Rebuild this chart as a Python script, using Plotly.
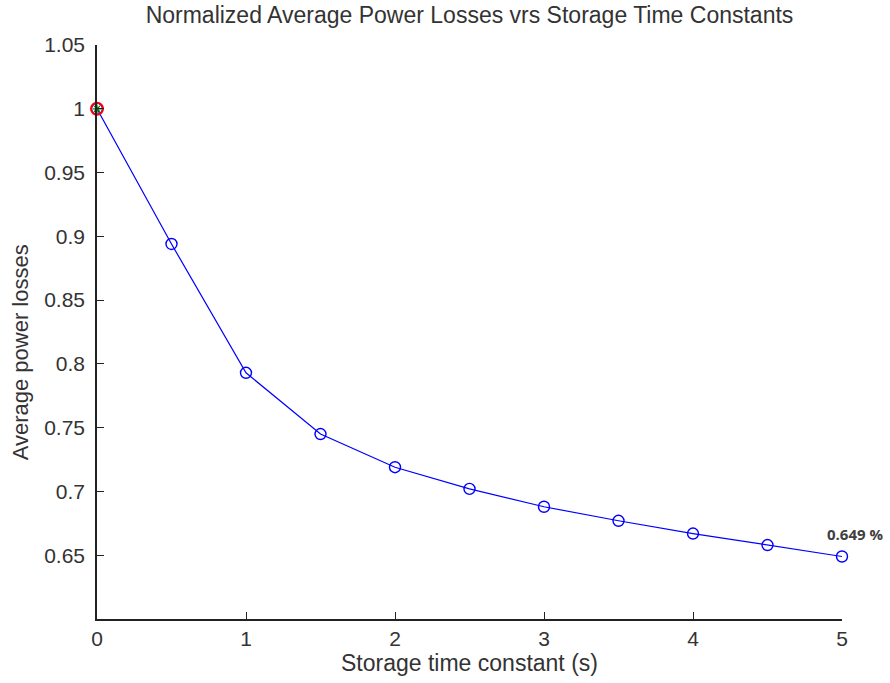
import plotly.graph_objects as go

# Storage time constant (s) and normalized average power losses
time_constant = [0, 0.5, 1, 1.5, 2, 2.5, 3, 3.5, 4, 4.5, 5]
power_losses = [1.0, 0.894, 0.793, 0.745, 0.719, 0.702, 0.688, 0.677, 0.667, 0.658, 0.649]

x_ticks = [0, 1, 2, 3, 4, 5]
y_ticks = [0.65, 0.7, 0.75, 0.8, 0.85, 0.9, 0.95, 1.0, 1.05]
y_tick_text = ["0.65", "0.7", "0.75", "0.8", "0.85", "0.9", "0.95", "1", "1.05"]

end_label = "0.649 %"

fig = go.Figure()

fig.add_trace(go.Scatter(
    x=time_constant, y=power_losses,
    mode="lines+markers",
    line=dict(color="#0000ff", width=1.2),
    marker=dict(symbol="circle-open", size=11, color="#0000ff", line=dict(width=1.4)),
    showlegend=False,
    cliponaxis=False,
))

# Reference point highlighted at the start
fig.add_trace(go.Scatter(
    x=[time_constant[0]], y=[power_losses[0]],
    mode="markers",
    marker=dict(symbol="circle-open", size=12, color="#ff0000", line=dict(width=2)),
    showlegend=False,
    cliponaxis=False,
))
fig.add_trace(go.Scatter(
    x=[time_constant[0]], y=[power_losses[0]],
    mode="markers",
    marker=dict(symbol="asterisk-open", size=7, color="#008000", line=dict(width=1.2)),
    showlegend=False,
    cliponaxis=False,
))

fig.add_annotation(
    x=time_constant[-1], y=power_losses[-1],
    text=end_label, showarrow=False,
    xanchor="center", yanchor="bottom", yshift=11, xshift=13,
    font=dict(family="Open Sans, Arial", size=15, color="#404040", weight="bold"),
)

tick_font = dict(family="Liberation Sans, Arial", size=21, color="#333333")
label_font = dict(family="Liberation Sans, Arial", size=23, color="#333333")

# y-axis label
fig.add_annotation(
    text="Average power losses", textangle=-90, showarrow=False,
    xref="paper", yref="paper", x=-0.103, y=0.465,
    xanchor="center", yanchor="middle", font=dict(family="Liberation Sans, Arial", size=22, color="#333333"),
)

fig.update_layout(
    width=890, height=683,
    margin=dict(l=97, r=48, t=45, b=64),
    paper_bgcolor="white", plot_bgcolor="white",
    title=dict(
        text="Normalized Average Power Losses vrs Storage Time Constants",
        x=0.5, xref="paper", xanchor="center", y=1, yref="container",
        yanchor="top", pad=dict(t=7),
        font=dict(family="Liberation Sans, Arial", size=23, color="#333333"),
    ),
    xaxis=dict(
        range=[0, 5], tickvals=x_ticks, ticks="inside", ticklen=7,
        tickcolor="#222222", showline=True, linecolor="#222222", linewidth=1.5,
        showgrid=False, zeroline=False, tickfont=tick_font,
        title=dict(text="Storage time constant (s)", font=label_font, standoff=3),
    ),
    yaxis=dict(
        range=[0.6, 1.05], tickvals=y_ticks, ticktext=y_tick_text,
        ticks="inside", ticklen=7, tickcolor="#222222",
        showline=True, linecolor="#222222", linewidth=1.5,
        showgrid=False, zeroline=False, tickfont=tick_font,
        ticklabelstandoff=6,
    ),
)

fig.write_html("out.html")
